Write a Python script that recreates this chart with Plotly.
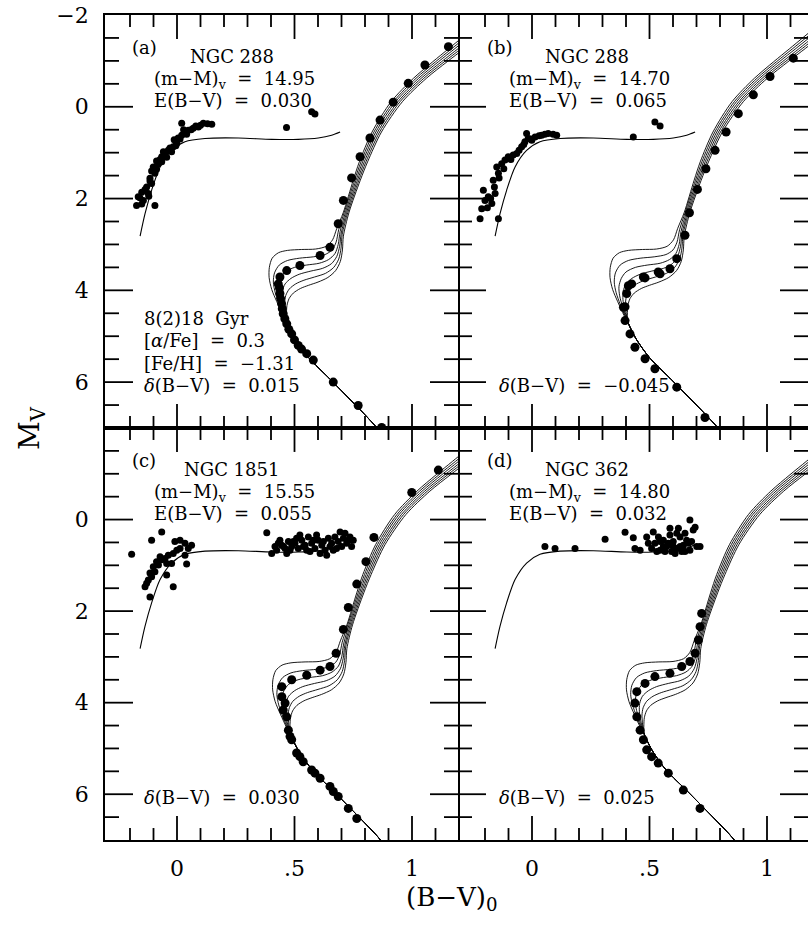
import plotly.graph_objects as go

# ------------------------------------------------------------------ data
# Isochrones (8(2)18 Gyr) as read in panel (a), i.e. plotted with delta(B-V)=0.015
ISO_REF_DELTA = 0.015
AGES = [8, 10, 12, 14, 16, 18]

MS_BV = [0.880, 0.843, 0.658, 0.559, 0.502, 0.470]
MS_MV = [7.20, 6.95, 5.97, 5.46, 5.05, 4.72]

TO_BV = {
    8:  [0.452, 0.425, 0.403, 0.392, 0.393, 0.405, 0.432, 0.470, 0.530, 0.590, 0.635, 0.662, 0.680],
    10: [0.455, 0.435, 0.418, 0.410, 0.415, 0.435, 0.470, 0.520, 0.580, 0.630, 0.660, 0.677, 0.688],
    12: [0.458, 0.445, 0.433, 0.430, 0.440, 0.460, 0.500, 0.550, 0.605, 0.645, 0.672, 0.686, 0.694],
    14: [0.461, 0.453, 0.447, 0.448, 0.460, 0.485, 0.520, 0.570, 0.620, 0.657, 0.680, 0.692, 0.699],
    16: [0.463, 0.460, 0.458, 0.463, 0.478, 0.505, 0.540, 0.585, 0.632, 0.667, 0.688, 0.698, 0.703],
    18: [0.466, 0.466, 0.468, 0.477, 0.495, 0.525, 0.560, 0.600, 0.642, 0.675, 0.695, 0.704, 0.708],
}
TO_MV = {
    8:  [4.55, 4.25, 3.98, 3.72, 3.50, 3.30, 3.18, 3.13, 3.11, 3.10, 3.04, 2.90, 2.65],
    10: [4.55, 4.30, 4.05, 3.82, 3.62, 3.45, 3.35, 3.30, 3.27, 3.22, 3.12, 2.95, 2.68],
    12: [4.56, 4.35, 4.12, 3.92, 3.74, 3.60, 3.50, 3.45, 3.41, 3.33, 3.20, 3.00, 2.72],
    14: [4.57, 4.40, 4.20, 4.02, 3.86, 3.74, 3.65, 3.58, 3.52, 3.42, 3.26, 3.04, 2.75],
    16: [4.58, 4.44, 4.27, 4.11, 3.97, 3.86, 3.78, 3.71, 3.63, 3.50, 3.32, 3.08, 2.78],
    18: [4.60, 4.48, 4.33, 4.18, 4.06, 3.96, 3.89, 3.82, 3.72, 3.57, 3.37, 3.12, 2.82],
}
RGB_MV = [2.30, 1.60, 1.20, 0.55, -0.11, -0.62, -0.98, -1.27, -1.60]
RGB_BV = {
    8:  [0.708, 0.750, 0.776, 0.830, 0.911, 1.006, 1.088, 1.157, 1.235],
    10: [0.712, 0.756, 0.783, 0.838, 0.921, 1.017, 1.100, 1.170, 1.249],
    12: [0.717, 0.762, 0.790, 0.846, 0.930, 1.028, 1.112, 1.183, 1.263],
    14: [0.722, 0.768, 0.797, 0.854, 0.940, 1.039, 1.125, 1.197, 1.277],
    16: [0.727, 0.774, 0.804, 0.862, 0.949, 1.050, 1.137, 1.210, 1.291],
    18: [0.732, 0.780, 0.811, 0.870, 0.959, 1.061, 1.149, 1.223, 1.305],
}

# Zero-age horizontal branch
ZAHB_BV = [-0.157, -0.136, -0.108, -0.072, -0.023, 0.034, 0.119, 0.261, 0.403, 0.516, 0.601, 0.658, 0.694]
ZAHB_MV = [2.82, 2.33, 1.82, 1.31, 0.95, 0.76, 0.69, 0.68, 0.71, 0.71, 0.68, 0.62, 0.55]

# ---- Panel (a) NGC 288
A_HB_BV = [-0.172, -0.165, -0.150, -0.129, -0.108, -0.143, -0.122, -0.094, -0.115, -0.094, -0.101, -0.079,
           -0.065, -0.051, -0.037, -0.016, -0.001, 0.020, 0.034, 0.048, 0.069, 0.091, 0.112, 0.148, 0.020,
           -0.108, -0.087, -0.072, -0.058, -0.030, -0.012, 0.005, 0.028, 0.466, 0.573, 0.587,
           -0.158, -0.136, -0.115, -0.087, -0.065, -0.044, -0.023, -0.005, 0.013, 0.041, 0.060, 0.080,
           0.100, 0.130, -0.120, -0.150]
A_HB_MV = [2.15, 1.96, 1.86, 1.75, 1.67, 2.04, 1.89, 2.15, 1.56, 1.45, 1.31, 1.24,
           1.09, 1.02, 0.95, 0.87, 0.80, 0.62, 0.55, 0.51, 0.47, 0.44, 0.36, 0.38, 0.36,
           1.40, 1.18, 1.15, 0.98, 0.90, 0.72, 0.68, 0.50, 0.45, 0.11, 0.16,
           1.98, 1.80, 1.62, 1.36, 1.20, 1.10, 0.98, 0.85, 0.70, 0.60, 0.50, 0.42,
           0.40, 0.37, 1.95, 2.12]
A_FID_BV = [1.155, 1.055, 0.984, 0.920, 0.864, 0.821, 0.779, 0.743, 0.708, 0.686, 0.651,
            0.609, 0.523, 0.467, 0.438, 0.431, 0.438, 0.445, 0.452, 0.467, 0.488, 0.516, 0.552,
            0.665, 0.771, 0.871, 0.436, 0.441, 0.448, 0.459, 0.476, 0.500, 0.530, 0.580]
A_FID_MV = [-1.31, -0.91, -0.51, -0.10, 0.29, 0.68, 1.09, 1.55, 2.04, 2.55, 3.06,
            3.24, 3.46, 3.57, 3.71, 3.86, 4.07, 4.29, 4.51, 4.73, 4.95, 5.20, 5.38,
            6.00, 6.51, 6.99, 3.95, 4.18, 4.40, 4.62, 4.85, 5.08, 5.28, 5.52]

# ---- Panel (b) NGC 288
B_HB_BV = [-0.221, -0.214, -0.200, -0.207, -0.186, -0.171, -0.157, -0.165, -0.143, -0.150, -0.129, -0.115,
           -0.101, -0.080, -0.065, -0.044, -0.030, -0.016, 0.013, 0.041, 0.069, 0.105, -0.143, -0.023,
           -0.001, 0.431, 0.523, 0.545,
           -0.190, -0.176, -0.160, -0.140, -0.120, -0.090, -0.055, -0.035, -0.005, 0.030, 0.055, 0.090]
B_HB_MV = [2.44, 2.22, 2.04, 1.82, 1.96, 2.11, 1.89, 1.60, 1.45, 1.31, 1.24, 1.16,
           1.09, 1.05, 1.02, 0.87, 0.76, 0.69, 0.66, 0.62, 0.58, 0.62, 2.44, 0.58,
           0.73, 0.66, 0.33, 0.42,
           2.20, 2.00, 1.75, 1.55, 1.35, 1.15, 0.95, 0.82, 0.70, 0.63, 0.60, 0.60]
B_FID_BV = [1.112, 1.013, 0.942, 0.878, 0.826, 0.779, 0.740, 0.704, 0.670, 0.651, 0.616, 0.587, 0.545,
            0.481, 0.424, 0.403, 0.396, 0.389, 0.396, 0.410, 0.417, 0.438, 0.481, 0.523, 0.616, 0.736,
            0.474, 0.537]
B_FID_MV = [-1.06, -0.66, -0.26, 0.15, 0.55, 0.95, 1.35, 1.80, 2.31, 2.80, 3.31, 3.53, 3.64,
            3.73, 3.86, 4.07, 4.36, 4.37, 4.66, 3.90, 4.95, 5.24, 5.49, 5.71, 6.11, 6.77,
            3.71, 3.60]

# ---- Panel (c) NGC 1851
C_HB_BV = [-0.193, -0.108, -0.065, -0.136, -0.129, -0.122, -0.108, -0.115, -0.094, -0.101, -0.079, -0.087,
           -0.065, -0.072, -0.051, -0.044, -0.037, -0.023, -0.016, -0.001, 0.013, -0.009, 0.013, 0.034,
           0.048, 0.062, 0.034, -0.044, -0.016, 0.041, -0.115,
           0.382, 0.403, 0.417, 0.431, 0.446, 0.460, 0.474, 0.488, 0.502, 0.516, 0.531, 0.545, 0.559,
           0.573, 0.587, 0.601, 0.616, 0.630, 0.644, 0.658, 0.672, 0.686, 0.701, 0.715, 0.729, 0.743,
           0.467, 0.509, 0.552, 0.594, 0.637, 0.679, 0.708, 0.438, 0.481, 0.523, 0.566, 0.609, 0.651,
           0.694, 0.736, 0.424, 0.453, 0.495, 0.538, 0.580, 0.623, 0.665, 0.722, 0.750]
C_HB_MV = [0.76, 0.45, 0.27, 1.47, 1.39, 1.32, 1.25, 1.17, 1.14, 1.03, 0.99, 0.92,
           0.88, 0.81, 0.85, 0.96, 0.78, 0.96, 0.74, 0.67, 0.63, 0.48, 0.45, 0.52,
           0.63, 0.56, 0.78, 1.21, 1.47, 0.97, 1.69,
           0.29, 0.74, 0.59, 0.52, 0.56, 0.63, 0.48, 0.59, 0.52, 0.63, 0.45, 0.56, 0.38,
           0.52, 0.63, 0.45, 0.56, 0.67, 0.41, 0.52, 0.38, 0.48, 0.59, 0.30, 0.45, 0.59,
           0.74, 0.41, 0.67, 0.34, 0.78, 0.63, 0.41, 0.45, 0.67, 0.34, 0.70, 0.74, 0.59,
           0.27, 0.38, 0.67, 0.59, 0.48, 0.59, 0.45, 0.48, 0.67, 0.52, 0.45]
C_FID_BV = [1.112, 0.999, 0.838, 0.804, 0.765, 0.729, 0.708, 0.677, 0.651, 0.609, 0.552, 0.488, 0.446,
            0.446, 0.460, 0.467, 0.474, 0.488, 0.509, 0.537, 0.573, 0.609, 0.651, 0.686, 0.729, 0.765,
            0.452, 0.481, 0.523, 0.587, 0.665]
C_FID_MV = [-1.08, -0.59, 0.39, 0.92, 1.41, 1.92, 2.40, 2.92, 3.21, 3.29, 3.40, 3.50, 3.65,
            3.87, 4.01, 4.31, 4.60, 4.81, 5.10, 5.29, 5.47, 5.65, 5.83, 6.05, 6.31, 6.53,
            4.16, 4.74, 5.18, 5.54, 5.94]

# ---- Panel (d) NGC 362
D_HB_BV = [0.055, 0.098, 0.183, 0.311, 0.396, 0.431, 0.438, 0.460, 0.488,
           0.516, 0.545, 0.523, 0.559, 0.573, 0.587, 0.601, 0.616, 0.630, 0.644, 0.658, 0.672, 0.686,
           0.701, 0.672, 0.694, 0.715, 0.587, 0.623, 0.545, 0.566, 0.609, 0.637, 0.509, 0.538, 0.580,
           0.651, 0.665, 0.601, 0.559, 0.531, 0.594, 0.630, 0.616, 0.651, 0.495, 0.679]
D_HB_MV = [0.59, 0.63, 0.63, 0.43, 0.28, 0.40, 0.63, 0.67, 0.38,
           0.27, 0.67, 0.52, 0.45, 0.59, 0.34, 0.48, 0.63, 0.38, 0.56, 0.45, 0.67, 0.23,
           0.59, 0.01, 0.17, 0.59, 0.19, 0.19, 0.48, 0.70, 0.74, 0.70, 0.63, 0.38, 0.52,
           0.30, 0.52, 0.59, 0.59, 0.70, 0.70, 0.59, 0.30, 0.70, 0.52, 0.48]
D_FID_BV = [0.722, 0.715, 0.708, 0.694, 0.672, 0.637, 0.587, 0.523, 0.481, 0.446, 0.438, 0.446,
            0.460, 0.474, 0.488, 0.509, 0.537, 0.580, 0.644, 0.715]
D_FID_MV = [2.05, 2.34, 2.63, 2.92, 3.10, 3.21, 3.36, 3.43, 3.58, 3.76, 4.01, 4.31,
            4.60, 4.81, 5.03, 5.18, 5.32, 5.54, 5.91, 6.31]

PANELS = [
    dict(tag="(a)", name="NGC 288", mm="14.95", ebv="0.030", delta=0.015, dtxt="0.015",
         hb=(A_HB_BV, A_HB_MV), fid=(A_FID_BV, A_FID_MV), extra=True),
    dict(tag="(b)", name="NGC 288", mm="14.70", ebv="0.065", delta=-0.045, dtxt="\u22120.045",
         hb=(B_HB_BV, B_HB_MV), fid=(B_FID_BV, B_FID_MV), extra=False),
    dict(tag="(c)", name="NGC 1851", mm="15.55", ebv="0.055", delta=0.030, dtxt="0.030",
         hb=(C_HB_BV, C_HB_MV), fid=(C_FID_BV, C_FID_MV), extra=False),
    dict(tag="(d)", name="NGC 362", mm="14.80", ebv="0.032", delta=0.025, dtxt="0.025",
         hb=(D_HB_BV, D_HB_MV), fid=(D_FID_BV, D_FID_MV), extra=False),
]

X_TICKS = [0, 0.5, 1]
X_TICKTEXT = ["0", ".5", "1"]
Y_TICKS_TOP = [-2, 0, 2, 4, 6]
Y_TICKTEXT_TOP = ["\u22122", "0", "2", "4", "6"]
Y_TICKS_BOT = [0, 2, 4, 6]
Y_TICKTEXT_BOT = ["0", "2", "4", "6"]
X_MINOR = [-0.2, -0.1, 0.1, 0.2, 0.3, 0.4, 0.6, 0.7, 0.8, 0.9, 1.1]
Y_MAJOR = [0, 2, 4, 6]
Y_MINOR = [-1.5, -1.0, -0.5, 0.5, 1.0, 1.5, 2.5, 3.0, 3.5, 4.5, 5.0, 5.5, 6.5]

# ------------------------------------------------------------------ figure
W, H = 808, 925
FONT = "DejaVu Serif"
fig = go.Figure()

XL = [105 / W, 458 / W]
XR = [458 / W, 1.0]
YT = [1 - 428 / H, 1 - 15 / H]
YB = [1 - 840 / H, 1 - 428 / H]
PX_PER_BV = 235.0
XR_LEFT = [-(177 - 105) / PX_PER_BV, (458 - 177) / PX_PER_BV]
XR_RIGHT = [-(532 - 458) / PX_PER_BV, (808 - 532) / PX_PER_BV]
YRANGE = [7.0, -2.0]
PX_PER_MAG = 413.0 / 9.0

for i, p in enumerate(PANELS):
    xa = "x" if i == 0 else f"x{i+1}"
    ya = "y" if i == 0 else f"y{i+1}"
    xr = XR_LEFT if i in (0, 2) else XR_RIGHT
    shift = p["delta"] - ISO_REF_DELTA
    for age in AGES:
        bv = MS_BV + TO_BV[age] + RGB_BV[age]
        mv = MS_MV + TO_MV[age] + RGB_MV
        fig.add_trace(go.Scatter(x=[v + shift for v in bv], y=mv, mode="lines",
                                 line=dict(color="black", width=0.9, shape="spline", smoothing=0.8),
                                 xaxis=xa, yaxis=ya))
    fig.add_trace(go.Scatter(x=ZAHB_BV, y=ZAHB_MV, mode="lines",
                             line=dict(color="black", width=1.1, shape="spline", smoothing=0.8),
                             xaxis=xa, yaxis=ya))
    fig.add_trace(go.Scatter(x=p["hb"][0], y=p["hb"][1], mode="markers",
                             marker=dict(color="black", size=7, line=dict(width=0)),
                             xaxis=xa, yaxis=ya))
    fig.add_trace(go.Scatter(x=p["fid"][0], y=p["fid"][1], mode="markers",
                             marker=dict(color="black", size=9, line=dict(width=0)),
                             xaxis=xa, yaxis=ya))

    # inward ticks on all four sides, drawn through the panel's own axes
    tx, ty = [], []
    for xv in X_TICKS + X_MINOR:
        ln = (24 if xv in X_TICKS else 12) / PX_PER_MAG
        tx += [xv, xv, None, xv, xv, None]
        ty += [YRANGE[0], YRANGE[0] - ln, None, YRANGE[1], YRANGE[1] + ln, None]
    for yv in Y_MAJOR + Y_MINOR:
        ln = (28 if yv in Y_MAJOR else 14) / PX_PER_BV
        tx += [xr[0], xr[0] + ln, None, xr[1], xr[1] - ln, None]
        ty += [yv, yv, None, yv, yv, None]
    fig.add_trace(go.Scatter(x=tx, y=ty, mode="lines", connectgaps=False,
                             line=dict(color="black", width=1.8),
                             xaxis=xa, yaxis=ya))

    def ann(x, y, text, size, xanchor="left"):
        fig.add_annotation(x=x, y=y, xref=xa, yref=ya, text=text, showarrow=False,
                           xanchor=xanchor, yanchor="middle",
                           font=dict(family=FONT, size=size, color="black"))
    ann(-0.198, -1.30, p["tag"], 18)
    ann(0.232, -1.10, p["name"], 18, "center")
    ann(-0.105, -0.58, "(m\u2212M)<sub>v</sub>  =  " + p["mm"], 18)
    ann(-0.105, -0.14, "E(B\u2212V)  =  " + p["ebv"], 18)
    if p["extra"]:
        ann(-0.148, 4.62, "8(2)18  Gyr", 18)
        ann(-0.148, 5.10, "[<i>\u03b1</i>/Fe]  =  0.3", 18)
        ann(-0.148, 5.60, "[Fe/H]  =  \u22121.31", 18)
    ann(-0.148, 6.08, "<i>\u03b4</i>(B\u2212V)  =  " + p["dtxt"], 18)

# ------------------------------------------------------------------ axes
tickfont = dict(family=FONT, size=22, color="black")
LW = 1.7


def xaxis(domain, rng, anchor, labels):
    return dict(domain=domain, range=rng, anchor=anchor, showgrid=False, zeroline=False,
                automargin=False, showline=True, linecolor="black", linewidth=LW, mirror=True,
                ticks="", tickmode="array", tickvals=X_TICKS, ticktext=X_TICKTEXT,
                showticklabels=labels, tickfont=tickfont, ticklabelstandoff=8)


def yaxis(domain, anchor, labels, tickvals, ticktext, line=True):
    return dict(domain=domain, range=YRANGE, anchor=anchor, showgrid=False, zeroline=False,
                automargin=False, showline=line, linecolor="black", linewidth=LW, mirror=True,
                ticks="", tickmode="array", tickvals=tickvals, ticktext=ticktext,
                showticklabels=labels, tickfont=tickfont, ticklabelstandoff=10)


fig.update_layout(
    width=W, height=H, margin=dict(l=0, r=0, t=0, b=0, autoexpand=False),
    paper_bgcolor="white", plot_bgcolor="white", showlegend=False, hovermode=False,
    xaxis=xaxis(XL, XR_LEFT, "y", False),
    yaxis=yaxis(YT, "x", True, Y_TICKS_TOP, Y_TICKTEXT_TOP),
    xaxis2=xaxis(XR, XR_RIGHT, "y2", False),
    yaxis2=yaxis(YT, "x2", False, Y_TICKS_TOP, Y_TICKTEXT_TOP, line=False),
    xaxis3=xaxis(XL, XR_LEFT, "y3", True),
    yaxis3=yaxis(YB, "x3", True, Y_TICKS_BOT, Y_TICKTEXT_BOT),
    xaxis4=xaxis(XR, XR_RIGHT, "y4", True),
    yaxis4=yaxis(YB, "x4", False, Y_TICKS_BOT, Y_TICKTEXT_BOT, line=False),
)

fig.add_annotation(x=452 / W, y=1 - 898 / H, xref="paper", yref="paper", showarrow=False,
                   text="(B\u2212V)<sub>0</sub>", font=dict(family=FONT, size=26, color="black"),
                   xanchor="center", yanchor="middle")
fig.add_annotation(x=32 / W, y=1 - 428 / H, xref="paper", yref="paper", showarrow=False,
                   text="M<sub>V</sub>", textangle=-90, font=dict(family=FONT, size=28, color="black"),
                   xanchor="center", yanchor="middle")

fig.write_html("out.html")
